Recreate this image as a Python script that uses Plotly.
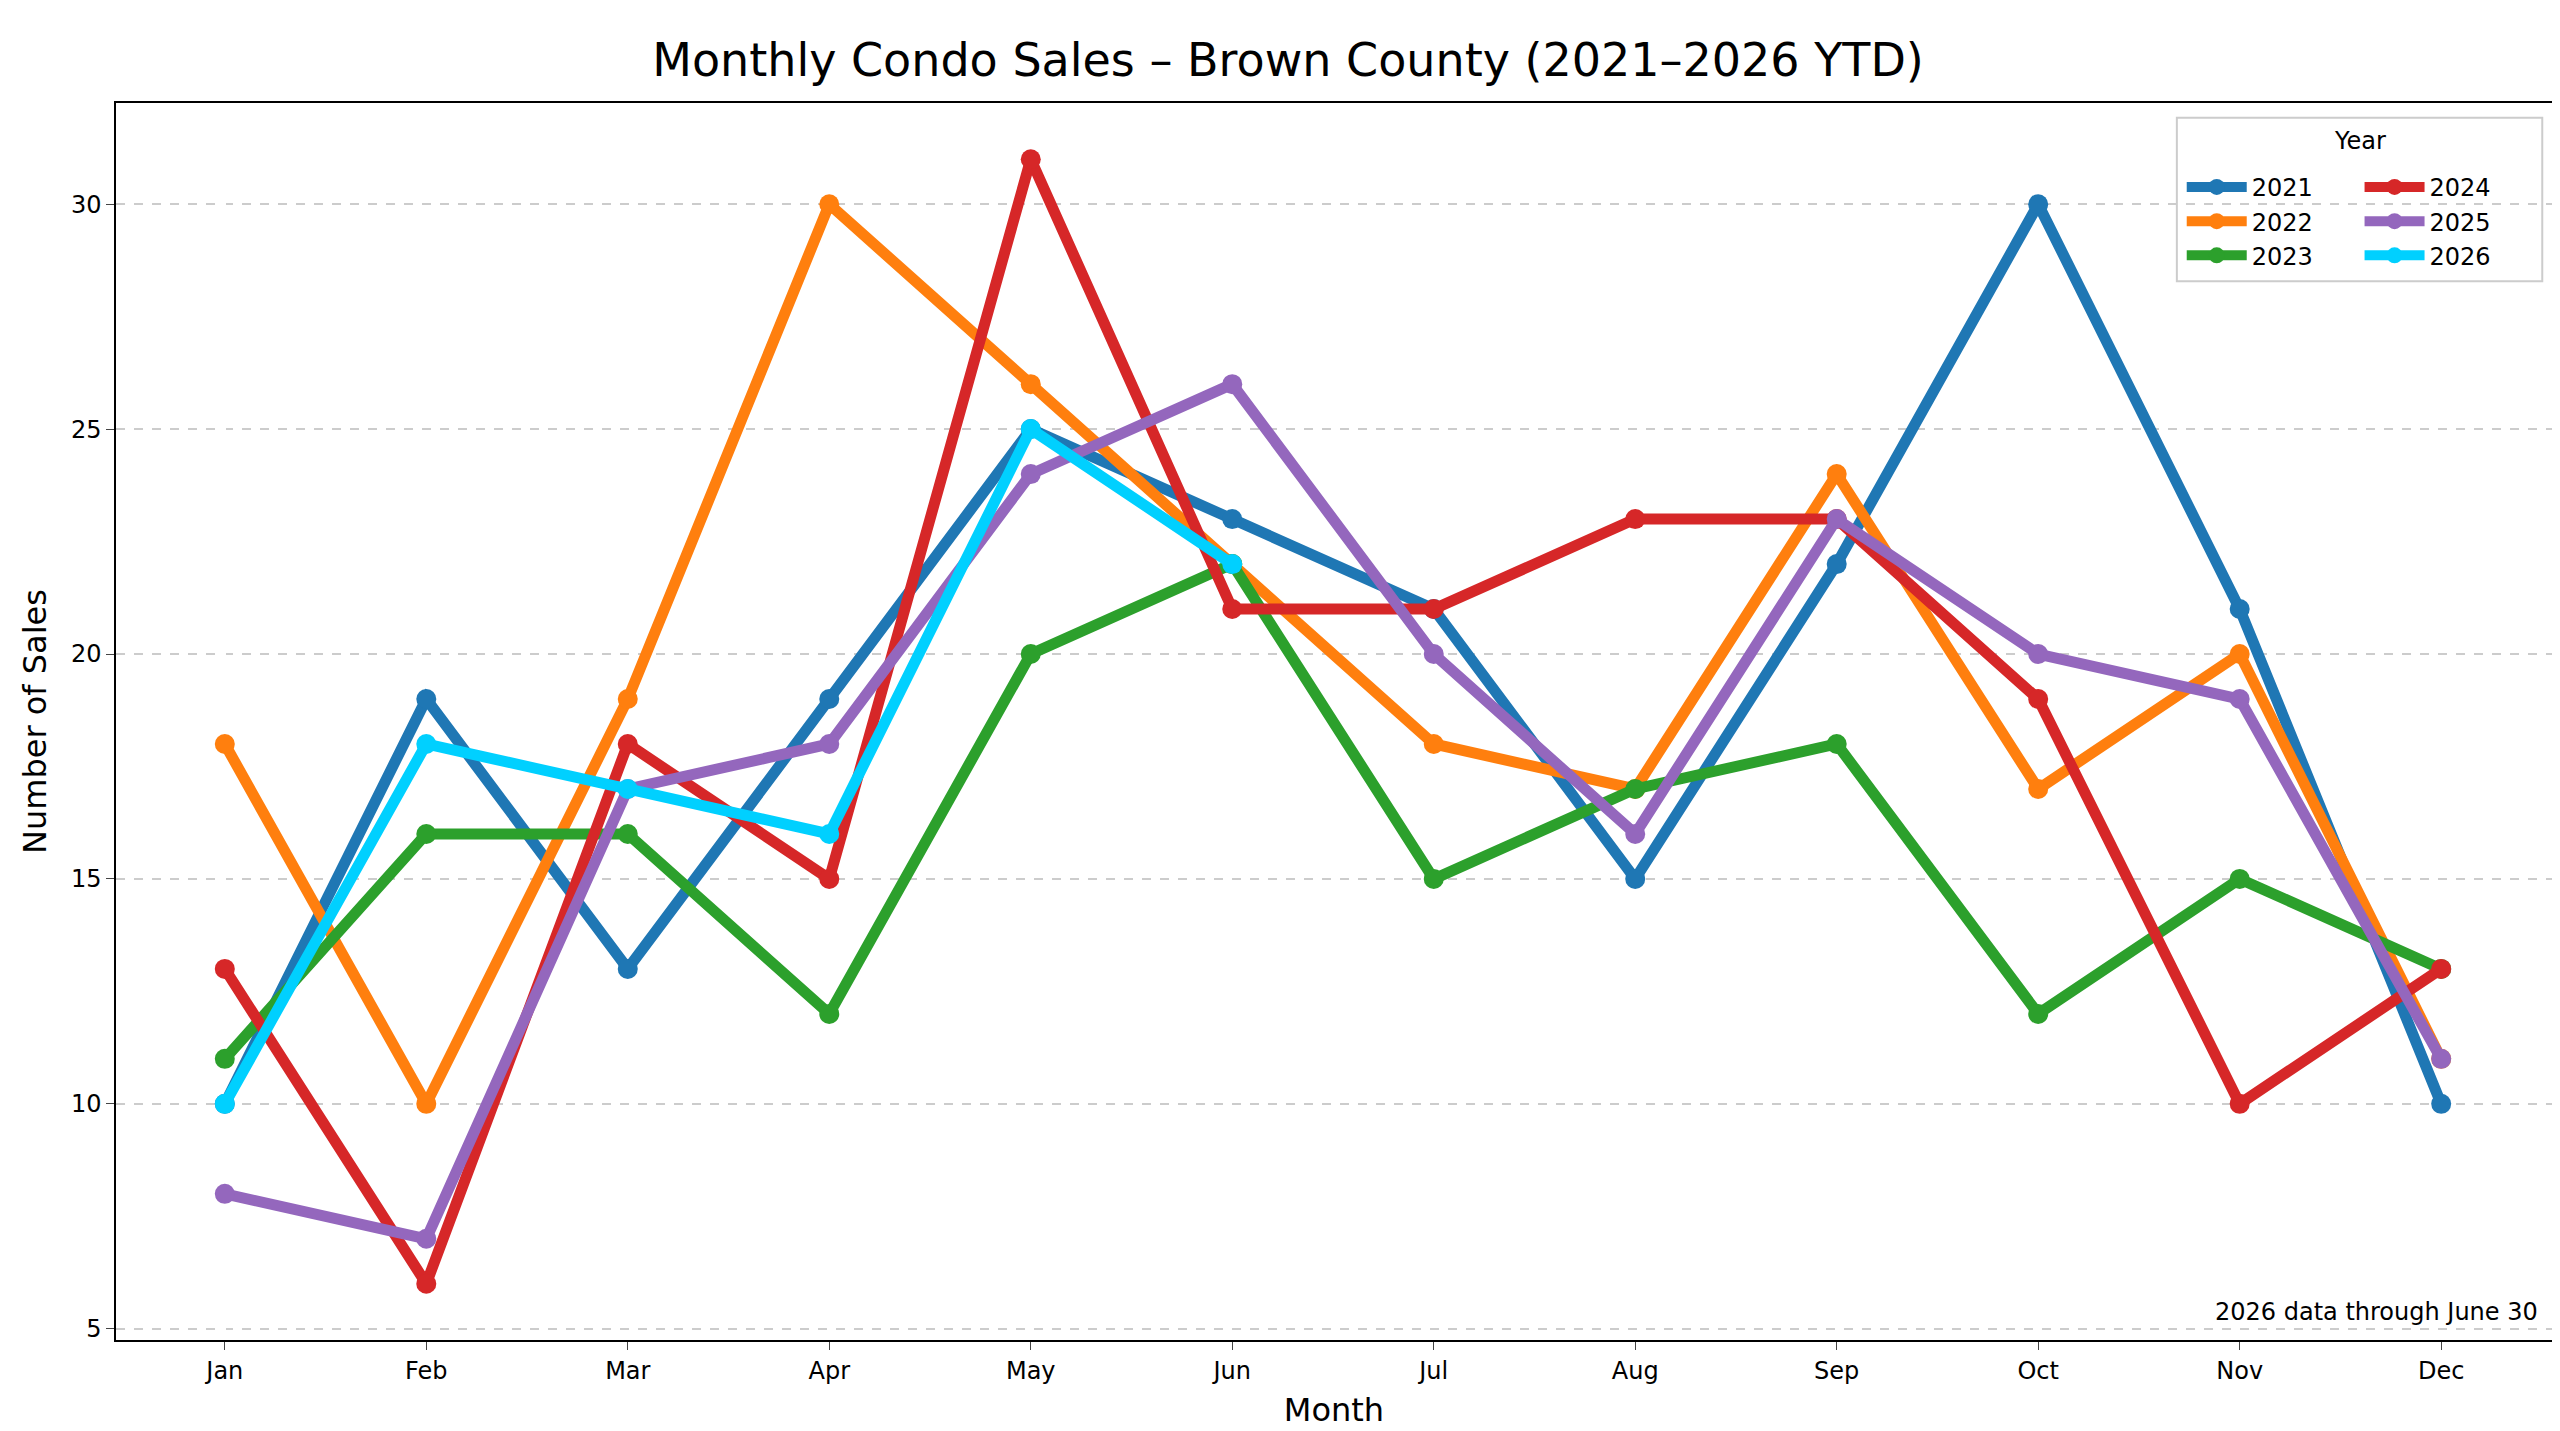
import plotly.graph_objects as go

months = ["Jan", "Feb", "Mar", "Apr", "May", "Jun", "Jul", "Aug", "Sep", "Oct", "Nov", "Dec"]
years = ["2021", "2022", "2023", "2024", "2025", "2026"]
sales_2021 = [10, 19, 13, 19, 25, 23, 21, 15, 22, 30, 21, 10]
sales_2022 = [18, 10, 19, 30, 26, 22, 18, 17, 24, 17, 20, 11]
sales_2023 = [11, 16, 16, 12, 20, 22, 15, 17, 18, 12, 15, 13]
sales_2024 = [13, 6, 18, 15, 31, 21, 21, 23, 23, 19, 10, 13]
sales_2025 = [8, 7, 17, 18, 24, 26, 20, 16, 23, 20, 19, 11]
sales_2026 = [10, 18, 17, 16, 25, 22]

series = [sales_2021, sales_2022, sales_2023, sales_2024, sales_2025, sales_2026]
colors = ["#1f77b4", "#ff7f0e", "#2ca02c", "#d62728", "#9467bd", "#00d0ff"]

fig = go.Figure()
for i, (yr, vals, col) in enumerate(zip(years, series, colors)):
    fig.add_trace(go.Scatter(
        x=list(range(len(vals))), y=vals, name=yr, mode="lines+markers",
        line=dict(color=col, width=11), marker=dict(color=col, size=20),
        legend="legend" if i < 3 else "legend2",
    ))

# two-column legend box with shared title
fig.add_shape(type="rect", xref="paper", yref="paper", x0=0.846, x1=0.996, y0=0.856, y1=0.988,
              line=dict(color="#cccccc", width=2), fillcolor="rgba(255,255,255,0.8)", layer="below")
fig.add_annotation(text="Year", xref="paper", yref="paper", x=0.921, y=0.982,
                   xanchor="center", yanchor="top", showarrow=False, font=dict(size=24))
fig.add_annotation(text="2026 data through June 30", xref="paper", yref="paper",
                   x=0.995, y=0.01, xanchor="right", yanchor="bottom",
                   showarrow=False, font=dict(size=24, color="black"))

leg = dict(orientation="v", yanchor="top", y=0.95, xanchor="left",
           bgcolor="rgba(0,0,0,0)", font=dict(size=24), itemwidth=60, tracegroupgap=0)
fig.update_layout(
    width=2560, height=1431,
    title=dict(text="Monthly Condo Sales – Brown County (2021–2026 YTD)", x=0.5, y=0.975,
               xanchor="center", font=dict(size=46, color="black")),
    font=dict(family="DejaVu Sans", size=24, color="black"),
    paper_bgcolor="white", plot_bgcolor="white",
    margin=dict(l=108, r=16, t=95, b=99),
    legend=dict(leg, x=0.848),
    legend2=dict(leg, x=0.921),
)
fig.update_xaxes(tickmode="array", tickvals=list(range(12)), ticktext=months,
                 range=[-0.54, 11.55], showgrid=False, showline=True, mirror=True,
                 linecolor="black", linewidth=1.5, ticks="outside", ticklen=8,
                 title=dict(text="Month", font=dict(size=32)))
fig.update_yaxes(range=[4.75, 32.25], tickvals=[5, 10, 15, 20, 25, 30],
                 showgrid=True, gridcolor="#cccccc", griddash="dash", gridwidth=1.5,
                 zeroline=False, showline=True, mirror=True, linecolor="black",
                 linewidth=1.5, ticks="outside", ticklen=8,
                 title=dict(text="Number of Sales", font=dict(size=32)))

fig.write_html("out.html")
